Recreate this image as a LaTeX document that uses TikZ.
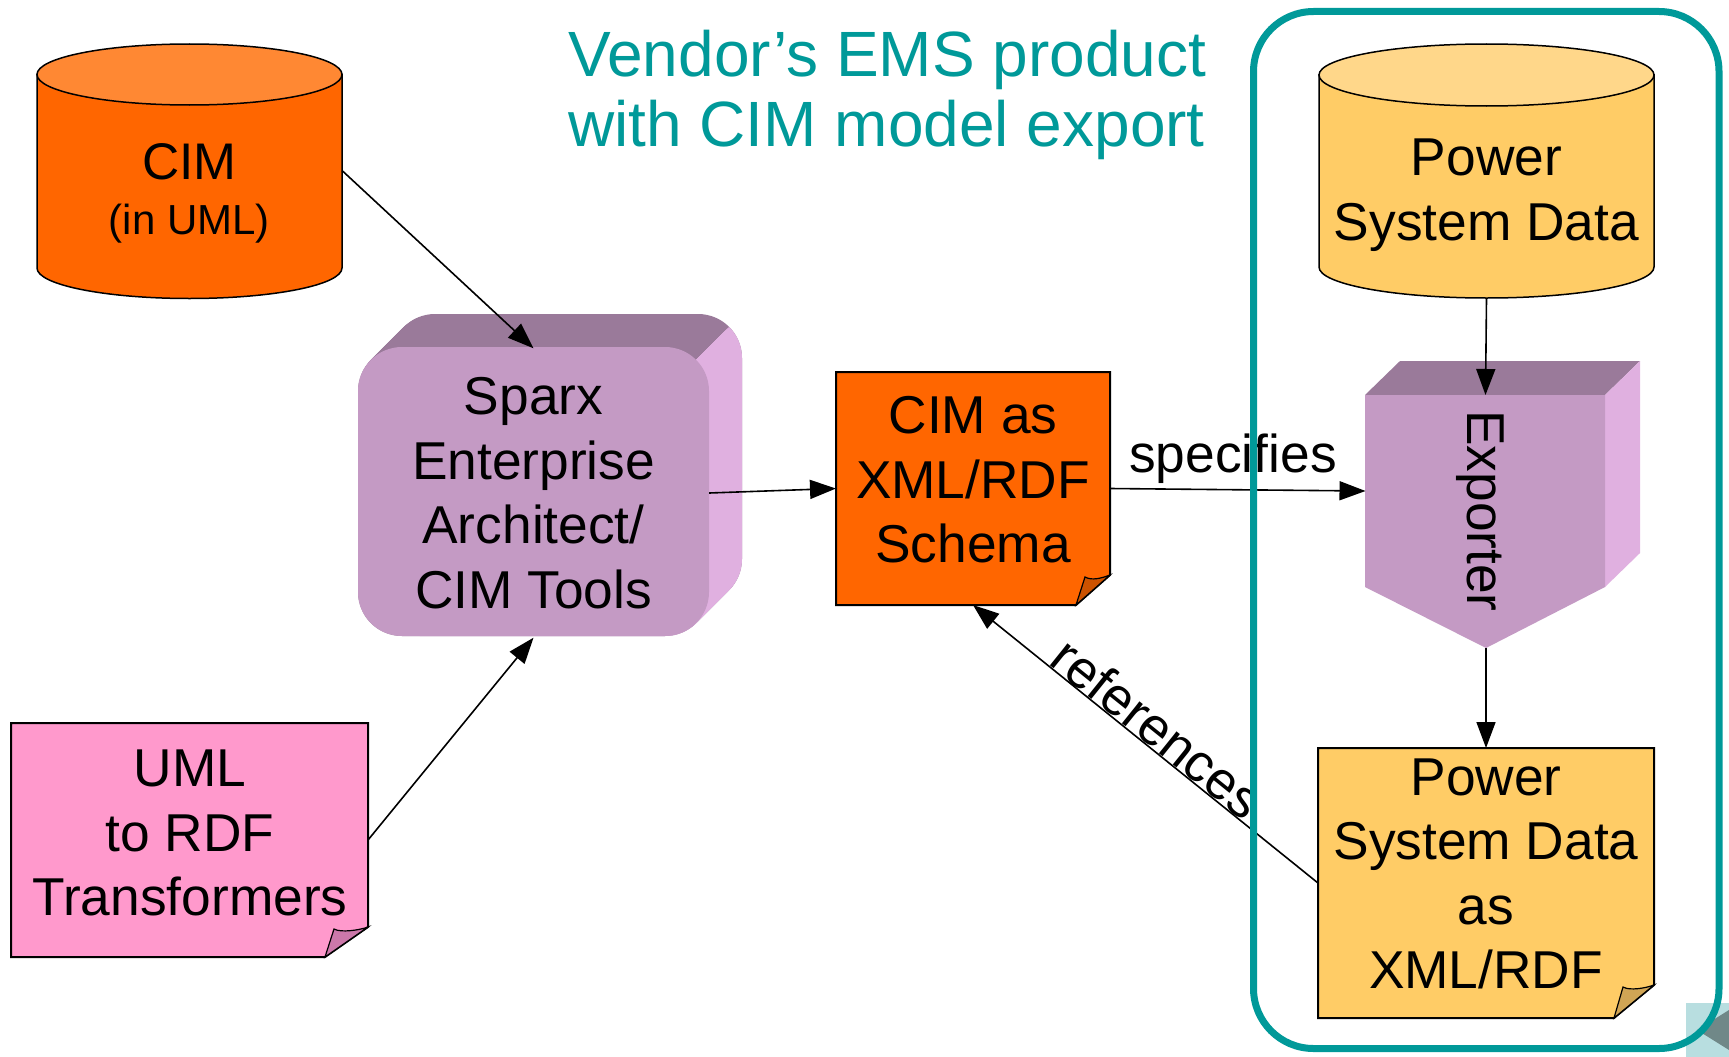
\documentclass[tikz,border=0pt]{standalone}
\usepackage{fontspec}
\setmainfont{Liberation Sans}
\usetikzlibrary{arrows.meta}
\definecolor{orbody}{RGB}{255,102,0}
\definecolor{ortop}{RGB}{255,136,51}
\definecolor{orflap}{RGB}{204,82,0}
\definecolor{pkbody}{RGB}{255,153,204}
\definecolor{pkflap}{RGB}{204,120,170}
\definecolor{ylbody}{RGB}{255,204,102}
\definecolor{yltop}{RGB}{255,215,138}
\definecolor{ylflap}{RGB}{208,165,85}
\definecolor{pfront}{RGB}{196,154,196}
\definecolor{ptop}{RGB}{154,122,154}
\definecolor{pside}{RGB}{224,176,224}
\definecolor{tealc}{RGB}{0,153,153}
\definecolor{artsq}{RGB}{184,222,224}
\definecolor{arttri}{RGB}{112,136,136}
\newcommand\NoteShape[8]{%
  \filldraw[fill=#7, draw=black, line width=2pt, line join=miter]
    (#1,-#2) -- (#3,-#2) -- (#3,-#4+#6) -- (#3-#5,-#4) -- (#1,-#4) -- cycle;
  \filldraw[fill=#8, draw=black, line width=1.2pt]
    (#3-#5,-#4) -- (#3-#5+9,-#4+#6-2)
    .. controls (#3-#5+16,-#4+#6-6) and (#3-8,-#4+#6-3) .. (#3,-#4+#6) -- cycle;}
\newcommand\CylShape[7]{%
  \filldraw[fill=#6, draw=black, line width=1.5pt]
    (#1-#2,-#3) -- (#1-#2,-#4) arc[start angle=180, end angle=360, x radius=#2pt, y radius=#5pt]
    -- (#1+#2,-#3) -- cycle;
  \filldraw[fill=#7, draw=black, line width=1.5pt]
    (#1,-#3) ellipse[x radius=#2pt, y radius=#5pt];}
\begin{document}
\begin{tikzpicture}[x=1pt,y=1pt,
  conn/.style={line width=1.6pt, -{Triangle[length=26pt,width=19pt]}},
  lbl/.style={font=\fontsize{53.3}{64.5}\selectfont, align=center, inner sep=0pt},
  hitbox/.style={inner sep=0pt, outer sep=0pt}]
\useasboundingbox (0,0) rectangle (1729,-1057);
\fill[white] (0,0) rectangle (1729,-1057);

% CIM cylinder
\CylShape{189.5}{152.5}{74.5}{268}{30.5}{orbody}{ortop}
\node[hitbox, minimum width=305pt, minimum height=255pt] (cim) at (189.5,-170.5) {};
\node[anchor=base, font=\fontsize{51.5}{58}\selectfont, inner sep=0pt] (cimt1) at (189.5,-179) {CIM};
\node[anchor=base, font=\fontsize{42}{46}\selectfont, inner sep=0pt] (cimt2) at (189.5,-234) {(in UML)};

% Power System Data cylinder
\CylShape{1486.5}{167.5}{75}{267}{31}{ylbody}{yltop}
\node[hitbox, minimum width=335pt, minimum height=255pt] (pscyl) at (1486.5,-170.5) {};
\node[lbl] (pscyltxt) at (1486.5,-195) {Power\\System Data};

% Sparx 3D box
\foreach \d in {0,...,33}
  \fill[ptop, rounded corners=44pt] (358+\d,-347+\d) rectangle (709+\d,-636+\d);
\begin{scope}
  \clip (256,-800) -- (856,-200) -- (950,-200) -- (950,-800) -- cycle;
  \foreach \d in {0,...,33}
    \fill[pside, rounded corners=44pt] (358+\d,-347+\d) rectangle (709+\d,-636+\d);
\end{scope}
\fill[pfront, rounded corners=44pt] (358,-347) rectangle (709,-636);
\node[lbl, minimum width=351pt, minimum height=289pt] (sparx) at (533.5,-493)
  {Sparx\\Enterprise\\Architect/\\CIM Tools};

% Exporter
\fill[ptop] (1365,-395) -- (1400,-361) -- (1640,-361) -- (1605,-395) -- cycle;
\fill[pside] (1605,-395) -- (1640,-361) -- (1640,-553) -- (1605,-587) -- cycle;
\fill[pfront] (1365,-395) -- (1605,-395) -- (1605,-587) -- (1486,-648) -- (1365,-587) -- cycle;
\node[hitbox, minimum width=240pt, minimum height=192pt] (exp) at (1485.5,-491) {};
\coordinate (exptip) at (1486,-648);
\node[lbl, rotate=-90] (exptxt) at (1480,-511) {Exporter};

% Notes
\NoteShape{836}{372}{1110}{605}{34}{30}{orbody}{orflap}
\node[hitbox, minimum width=274pt, minimum height=233pt] (cimnote) at (973,-488.5) {};
\node[lbl] (cimnotetxt) at (973,-480) {CIM as\\XML/RDF\\Schema};

\NoteShape{11}{723}{368}{957}{43}{30}{pkbody}{pkflap}
\node[hitbox, minimum width=357pt, minimum height=234pt] (uml) at (189.5,-840) {};
\node[lbl] (umltxt) at (190,-833) {UML\\to RDF\\Transformers};

\NoteShape{1318}{748}{1654}{1018}{40}{33}{ylbody}{ylflap}
\node[hitbox, minimum width=336pt, minimum height=270pt] (psnote) at (1486,-883) {};
\node[lbl] (psnotetxt) at (1486,-874) {Power\\System Data\\as\\XML/RDF};

% Connectors
\draw[conn] (cim.east) -- (sparx.north);
\draw[conn] (uml.east) -- (sparx.south);
\draw[conn] (sparx.east) -- (cimnote.west);
\draw[conn] (cimnote.east) -- (exp.west);
\draw[conn] (pscyl.south) -- (exp.north);
\draw[conn] (exptip) -- (psnote.north);
\draw[conn] (psnote.west) -- (cimnote.south);

% Labels
\node[lbl, anchor=base] (spec) at (1233,-472) {specifies};
\node[lbl, rotate=-38.8] (refs) at (1158,-728) {references};

% Title
\node[anchor=base west, text=tealc, font=\fontsize{64}{70}\selectfont, inner sep=0pt] (title1) at (568,-77) {Vendor’s EMS product};
\node[anchor=base west, text=tealc, font=\fontsize{64}{70}\selectfont, inner sep=0pt] (title2) at (568,-146) {with CIM model export};

% corner artifact
\fill[artsq] (1686,-1003) rectangle (1729,-1057);
\fill[arttri] (1697,-1030) -- (1729,-1010) -- (1729,-1050) -- cycle;

% Vendor boundary
\draw[tealc, line width=7pt, rounded corners=60pt] (1253.5,-11.5) rectangle (1719,-1048.5);
\end{tikzpicture}
\end{document}
